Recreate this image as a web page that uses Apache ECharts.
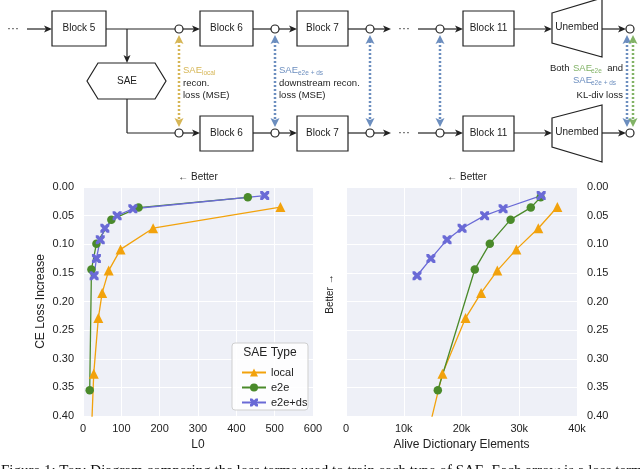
<!DOCTYPE html>
<html><head><meta charset="utf-8">
<script src="https://cdn.jsdelivr.net/npm/echarts@6/dist/echarts.min.js"></script>
<style>html,body{margin:0;padding:0;background:#fff}#c{width:640px;height:469px}</style>
</head><body><div id="c"></div>
<script>
// ---- data ----
const seriesNames = ['local', 'e2e', 'e2e+ds'];
const localL0    = [515, 183, 98, 67, 50, 40, 28, 19];
const localAlive = [36600, 33300, 29500, 26200, 23400, 20700, 16700, 13000];
const localCE    = [0.035, 0.072, 0.109, 0.146, 0.185, 0.229, 0.326, 0.48];
const e2eL0      = [430, 145, 74, 35, 22, 17.5];
const e2eAlive   = [33700, 32000, 28500, 24900, 22300, 15900];
const e2eCE      = [0.018, 0.036, 0.057, 0.099, 0.144, 0.355];
const dsL0       = [474, 130, 89, 57, 45, 35, 29];
const dsAlive    = [33800, 27200, 24000, 20100, 17500, 14700, 12300];
const dsCE       = [0.015, 0.038, 0.050, 0.072, 0.092, 0.125, 0.155];
const yTicks = [0, 0.05, 0.10, 0.15, 0.20, 0.25, 0.30, 0.35, 0.40];
const l0Ticks = [0, 100, 200, 300, 400, 500, 600];
const aliveTicks = ['0', '10k', '20k', '30k', '40k'];

const C_LOCAL = '#F2A20C', C_E2E = '#4A8A2A', C_DS = '#6A6AD6';
const G_GOLD = '#D6B656', G_BLUE = '#6C8EBF', G_GREEN = '#82B366';
const XPATH = 'path://M2.2,0 L4,1.8 L4,4 L1.8,4 L0,2.2 L-1.8,4 L-4,4 L-4,1.8 L-2.2,0 L-4,-1.8 L-4,-4 L-1.8,-4 L0,-2.2 L1.8,-4 L4,-4 L4,-1.8 Z';
const FONT = 'Liberation Sans, Arial, sans-serif';

function pairs(xs, ys){ return xs.map((x,i)=>[x, ys[i]]); }
function mk(name, xs, ys, idx, color, symbol, size){
  return {type:'line', name, xAxisIndex: idx, yAxisIndex: idx, data: pairs(xs, ys),
    symbol, symbolSize: size, clip: true, animation: false,
    lineStyle:{color, width:1.3}, itemStyle:{color}, z: 3};
}

// ---- diagram graphics ----
const G = [];
const INK = '#222';
function line(x1,y1,x2,y2){ G.push({type:'line', shape:{x1,y1,x2,y2}, style:{stroke:INK, lineWidth:1.2}, silent:true}); }
function arrowR(x1,x2,y){ line(x1,y,x2-5,y); G.push({type:'polygon', shape:{points:[[x2-8,y-3.5],[x2,y],[x2-8,y+3.5],[x2-6,y]]}, style:{fill:INK}, silent:true}); }
function box(x,y,w,h,label){ G.push({type:'rect', shape:{x,y,width:w,height:h}, style:{fill:'#fff', stroke:INK, lineWidth:1.2}, silent:true});
  G.push({type:'text', style:{text:label, x:x+w/2, y:y+h/2, textAlign:'center', textVerticalAlign:'middle', font:'10px '+FONT, fill:'#222'}, silent:true}); }
function circ(cx,cy){ G.push({type:'circle', shape:{cx,cy,r:4}, style:{fill:'#fff', stroke:INK, lineWidth:1.2}, silent:true, z:2}); }
function txt(s,x,y,size,color,align){ G.push({type:'text', style:{text:s, x, y, textAlign:align||'left', textVerticalAlign:'middle', font:size+'px '+FONT, fill:color||'#222'}, silent:true}); }
function dots(x,y){ txt('···', x, y, 12, '#222', 'center'); }
function dotted(x, y1, y2, color){
  G.push({type:'line', shape:{x1:x,y1:y1+6,x2:x,y2:y2-6}, style:{stroke:color, lineWidth:2.5, lineDash:[2,2]}, silent:true, z:1});
  G.push({type:'polygon', shape:{points:[[x,y1],[x+4.5,y1+9],[x,y1+7],[x-4.5,y1+9]]}, style:{fill:color}, silent:true, z:1});
  G.push({type:'polygon', shape:{points:[[x,y2],[x+4.5,y2-9],[x,y2-7],[x-4.5,y2-9]]}, style:{fill:color}, silent:true, z:1});
}
function trap(pts, label, cy){ G.push({type:'polygon', shape:{points:pts}, style:{fill:'#fff', stroke:INK, lineWidth:1.2}, silent:true});
  txt(label, 577, cy, 10, '#222', 'center'); }

// rows
[[29, 11], [133, 116]].forEach(([y, by], row)=>{
  if(row===0){ dots(13, y); arrowR(27, 52, y); box(52, by, 54, 35, 'Block 5'); line(106, y, 175, y); }
  else { line(127, 99, 127, y); line(127, y, 175, y); }
  circ(179, y); arrowR(183, 200, y);
  box(200, by, 53, 35, 'Block 6'); line(253, y, 271, y); circ(275, y); arrowR(279, 297, y);
  box(297, by, 51, 35, 'Block 7'); line(348, y, 366, y); circ(370, y); arrowR(374, 391, y);
  dots(404, y); line(418, y, 436, y); circ(440, y); arrowR(444, 463, y);
  box(463, by, 51, 35, 'Block 11'); arrowR(514, 552, y);
  arrowR(602, 626, y); circ(630, y);
});
trap([[552,13],[602,-2],[602,57],[552,43]], 'Unembed', 27);
trap([[552,118],[602,105],[602,162],[552,147]], 'Unembed', 132);
// SAE branch
line(127, 29, 127, 57);
G.push({type:'polygon', shape:{points:[[123.5,55],[127,63],[130.5,55],[127,57]]}, style:{fill:INK}, silent:true});
G.push({type:'polygon', shape:{points:[[87,81],[98,63],[155,63],[166,81],[155,99],[98,99]]}, style:{fill:'#fff', stroke:INK, lineWidth:1.2}, silent:true});
txt('SAE', 127, 81, 10, '#222', 'center');
// loss arrows
dotted(179, 35, 127, G_GOLD);
dotted(275, 35, 127, G_BLUE);
dotted(370, 35, 127, G_BLUE);
dotted(440, 35, 127, G_BLUE);
dotted(627, 35, 127, G_BLUE);
dotted(633, 35, 127, G_GREEN);
// loss labels
txt('SAE', 183, 70, 9.5, G_GOLD); txt('local', 202, 73, 6.5, G_GOLD);
txt('recon.', 183, 83, 9.5); txt('loss (MSE)', 183, 95, 9.5);
txt('SAE', 279, 70, 9.5, G_BLUE); txt('e2e + ds', 298, 73, 6.5, G_BLUE);
txt('downstream recon.', 279, 83, 9.5); txt('loss (MSE)', 279, 95, 9.5);
txt('Both', 550, 68, 9.5); txt('SAE', 573, 68, 9.5, G_GREEN); txt('e2e', 591, 71, 6.5, G_GREEN); txt('and', 623, 68, 9.5, '#222', 'right');
txt('SAE', 573, 80, 9.5, G_BLUE); txt('e2e + ds', 591, 83, 6.5, G_BLUE);
txt('KL-div loss', 623, 95, 9.5, '#222', 'right');

// chart annotations
txt('← Better', 198, 177, 10, '#222', 'center');
txt('← Better', 467, 177, 10, '#222', 'center');
G.push({type:'text', x:330, y:294, rotation:Math.PI/2, style:{text:'Better →', x:0, y:0, textAlign:'center', textVerticalAlign:'middle', font:'10px '+FONT, fill:'#222'}, silent:true});
// legend box
G.push({type:'rect', shape:{x:232, y:343, width:76, height:67, r:3}, style:{fill:'rgba(255,255,255,0.85)', stroke:'#cfcfcf', lineWidth:1}, z:5, silent:true});
G.push({type:'text', style:{text:'SAE Type', x:270, y:353, textAlign:'center', textVerticalAlign:'middle', font:'12px '+FONT, fill:'#222'}, z:6, silent:true});
// caption (cut off at bottom)
G.push({type:'text', style:{text:'Figure 1: Top: Diagram comparing the loss terms used to train each type of SAE. Each arrow is a loss term', x:1, y:464, textAlign:'left', textVerticalAlign:'top', font:'15px Liberation Serif, Times New Roman, serif', fill:'#111'}, silent:true});

const yAxisBase = {type:'value', min:0, max:0.4, interval:0.05, inverse:true,
  axisLine:{show:false}, axisTick:{show:false},
  splitLine:{show:true, lineStyle:{color:'#fff', width:1}},
  axisLabel:{formatter:v=>v.toFixed(2), fontSize:11, color:'#222', fontFamily:FONT}};

const chart = echarts.init(document.getElementById('c'), null, {renderer:'canvas'});
chart.setOption({
  animation:false,
  backgroundColor:'#fff',
  grid:[
    {left:83, top:187, width:230, height:229, show:true, backgroundColor:'#EEF0F7', borderWidth:0},
    {left:346, top:187, width:231, height:229, show:true, backgroundColor:'#EEF0F7', borderWidth:0}
  ],
  xAxis:[
    {type:'value', gridIndex:0, min:l0Ticks[0], max:l0Ticks[l0Ticks.length-1], interval:100,
     axisLine:{show:false}, axisTick:{show:false}, splitLine:{show:true, lineStyle:{color:'#fff', width:1}},
     axisLabel:{fontSize:11, color:'#222', margin:7, fontFamily:FONT},
     name:'L0', nameLocation:'middle', nameGap:23, nameTextStyle:{fontSize:12, color:'#222', fontFamily:FONT}},
    {type:'value', gridIndex:1, min:0, max:40000, interval:10000,
     axisLine:{show:false}, axisTick:{show:false}, splitLine:{show:true, lineStyle:{color:'#fff', width:1}},
     axisLabel:{fontSize:11, color:'#222', margin:7, fontFamily:FONT, formatter:v=>aliveTicks[Math.round(v/10000)]},
     name:'Alive Dictionary Elements', nameLocation:'middle', nameGap:23, nameTextStyle:{fontSize:12, color:'#222', fontFamily:FONT}}
  ],
  yAxis:[
    Object.assign({}, yAxisBase, {gridIndex:0, position:'left', axisLabel:Object.assign({}, yAxisBase.axisLabel, {margin:9}),
      name:'CE Loss Increase', nameLocation:'middle', nameGap:36, nameRotate:90, nameTextStyle:{fontSize:12, color:'#222', fontFamily:FONT}}),
    Object.assign({}, yAxisBase, {gridIndex:1, position:'right', axisLabel:Object.assign({}, yAxisBase.axisLabel, {margin:10})})
  ],
  legend:{data:seriesNames, orient:'vertical', left:236, top:362, itemWidth:24, itemHeight:10, itemGap:4, z:7,
    textStyle:{fontSize:11, color:'#222', fontFamily:FONT}, selectedMode:false},
  graphic:{elements:G},
  series:[
    mk('local', localL0, localCE, 0, C_LOCAL, 'triangle', 10),
    mk('e2e', e2eL0, e2eCE, 0, C_E2E, 'circle', 8.5),
    mk('e2e+ds', dsL0, dsCE, 0, C_DS, XPATH, 9),
    mk('local', localAlive, localCE, 1, C_LOCAL, 'triangle', 10),
    mk('e2e', e2eAlive, e2eCE, 1, C_E2E, 'circle', 8.5),
    mk('e2e+ds', dsAlive, dsCE, 1, C_DS, XPATH, 9)
  ]
});
</script></body></html>
